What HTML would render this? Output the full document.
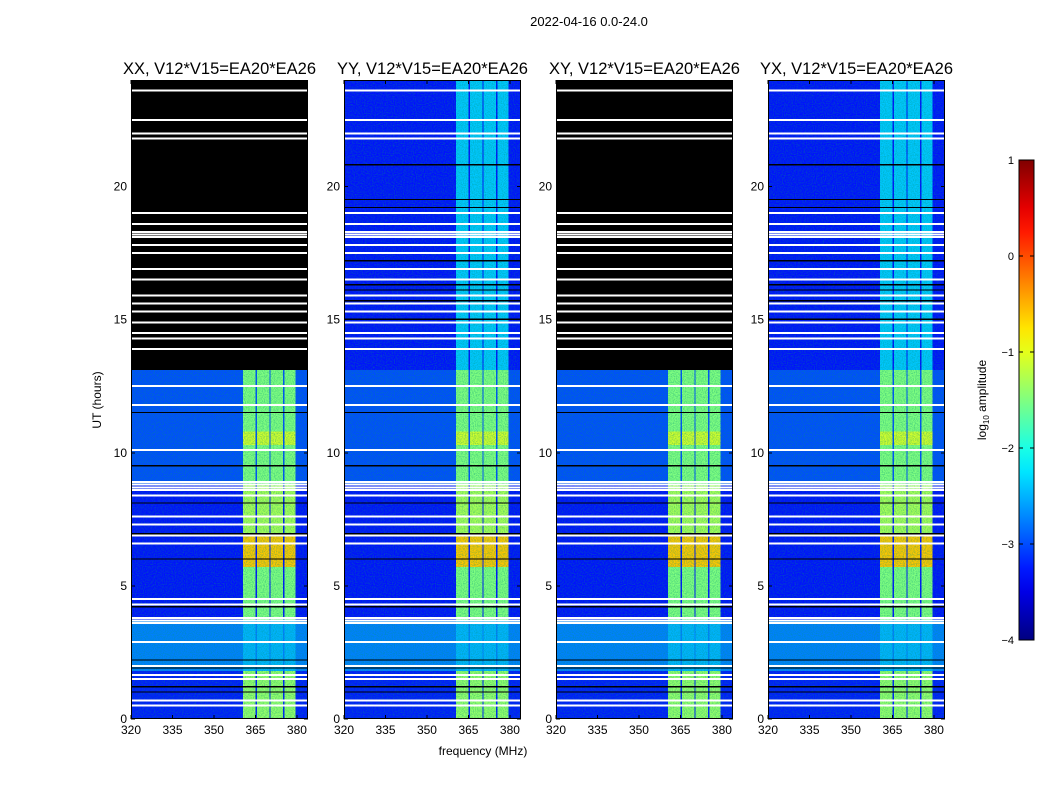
<!DOCTYPE html>
<html><head><meta charset="utf-8">
<style>
body{margin:0;background:#fff;}
svg text{font-family:"Liberation Sans",sans-serif;fill:#000;}
</style></head>
<body>
<svg id="fig" width="1050" height="800" xmlns="http://www.w3.org/2000/svg" shape-rendering="crispEdges">
<rect width="1050" height="800" fill="#fff"/>
<text x="589" y="26" font-size="13" text-anchor="middle">2022-04-16 0.0-24.0</text>
<text x="483" y="755" font-size="12" text-anchor="middle">frequency (MHz)</text>
<text transform="translate(101,400) rotate(-90)" font-size="12" text-anchor="middle">UT (hours)</text>
<text transform="translate(986,400) rotate(-90)" font-size="12" text-anchor="middle">log<tspan font-size="8" dy="3">10</tspan><tspan dy="-3"> amplitude</tspan></text>
</svg>
<script>
// ---- data ----
const panelTitles = ["XX, V12*V15=EA20*EA26","YY, V12*V15=EA20*EA26","XY, V12*V15=EA20*EA26","YX, V12*V15=EA20*EA26"];
const blankAbove = [13.1, null, 13.1, null];   // hours above which data is missing (black)
const bgStart = [0, 1.8, 3.7, 8.8, 13.1];
const bgEnd   = [1.8, 3.7, 8.8, 13.1, 24];
const bgLevel = [-3.25, -2.75, -3.3, -3.0, -3.3];
const bandF0 = [360.5, 365.5, 370.5, 375.5];
const bandF1 = [365.0, 370.0, 375.0, 379.5];
const rfiStart = [0, 1.8, 3.7, 5.7, 6.9, 8.8, 10.3, 10.8, 13.1];
const rfiEnd   = [1.8, 3.7, 5.7, 6.9, 8.8, 10.3, 10.8, 13.1, 24];
const rfiLevel = [-1.4, -2.5, -1.5, -0.6, -1.3, -1.5, -1.1, -1.5, -2.4];
const whiteLines = [0.5,0.7,1.5,1.65,2.0,2.9,3.6,3.7,3.8,4.3,4.5,6.6,6.9,7.3,7.6,8.4,8.6,8.7,8.8,8.9,10.1,11.8,12.5,13.9,14.3,14.5,14.9,15.3,15.6,15.9,16.5,16.9,17.5,17.8,18.1,18.2,18.3,18.6,19.0,21.8,22.0,22.5,23.6];
const blackLines = [1.0,1.2,1.9,2.2,4.2,6.0,6.95,8.1,9.5,11.5,15.0,15.7,16.1,16.3,17.2,19.2,19.5,20.8];
const xTicks = [320,335,350,365,380];
const yTicks = [0,5,10,15,20];
const cbTicks = [1,0,-1,-2,-3,-4];

// ---- axes ----
const panelX = [131,344,556,768], PW = 177, PT = 80, PB = 719;
const fMin = 320, fMax = 384, tMax = 24;
const fx = (f,i)=> panelX[i] + (f-fMin)/(fMax-fMin)*PW;
const ty = h => PB - h/tMax*(PB-PT);
function jet(v){const t=Math.max(0,Math.min(1,(v+4)/5));const c=x=>Math.round(255*Math.max(0,Math.min(1,1.5-Math.abs(4*t-x))));return `rgb(${c(3)},${c(2)},${c(1)})`;}
const svg = document.getElementById('fig');
const NS = "http://www.w3.org/2000/svg";
function mk(tag, attrs, parent){const e=document.createElementNS(NS,tag);for(const k in attrs)e.setAttribute(k,attrs[k]);(parent||svg).appendChild(e);return e;}

panelTitles.forEach((title,i)=>{
  const g = mk('g',{});
  
  
  bgStart.forEach((s,k)=>{
    const r=mk('rect',{x:panelX[i],y:ty(bgEnd[k]),width:PW,height:ty(bgStart[k])-ty(bgEnd[k]),fill:jet(bgLevel[k])},g);
    
    
  });
  rfiStart.forEach((s,k)=>{
    bandF0.forEach((f0,b)=>{
      const r=mk('rect',{x:fx(f0,i),y:ty(rfiEnd[k]),width:fx(bandF1[b],i)-fx(f0,i),height:ty(s)-ty(rfiEnd[k]),fill:jet(rfiLevel[k])},g);
      
      
    });
  });
  const fid='n'+i;
  const f=mk('filter',{id:fid,x:0,y:0,width:'100%',height:'100%'},g);
  mk('feTurbulence',{type:'fractalNoise',baseFrequency:'0.9',numOctaves:'1',seed:i+1},f);
  mk('feColorMatrix',{type:'matrix',values:'0 0 0 0 0  0 0 0 0 0.3  0 0 0 0 0.2  0 0 0 1.2 -0.45'},f);
  mk('rect',{x:panelX[i],y:PT,width:PW,height:PB-PT,filter:`url(#${fid})`,opacity:0.9},g);
  if(blankAbove[i]!==null){
    const r=mk('rect',{x:panelX[i],y:PT,width:PW,height:ty(blankAbove[i])-PT,fill:'#000'},g);
    
    
  }
  blackLines.forEach(h=>{const r=mk('rect',{x:panelX[i],y:ty(h)-1,width:PW,height:1.3,fill:'#000'},g);
    });
  whiteLines.forEach(h=>{const r=mk('rect',{x:panelX[i],y:ty(h)-1,width:PW,height:2,fill:'#fff'},g);
    });
  mk('rect',{x:panelX[i]+0.5,y:PT+0.5,width:PW-1,height:PB-PT-1,fill:'none',stroke:'#000','stroke-width':1},g);
  const t=mk('text',{x:panelX[i]+PW/2,y:74,'font-size':16.5,'text-anchor':'middle'},g);
  t.textContent=title;
  
  
  xTicks.forEach(v=>{
    const x=fx(v,i);
    mk('line',{x1:x,x2:x,y1:PB,y2:PB-4,stroke:'#000'},g);
    mk('line',{x1:x,x2:x,y1:PT,y2:PT+4,stroke:'#000'},g);
    const l=mk('text',{x:x,y:PB+15,'font-size':12,'text-anchor':'middle'},g);
    l.textContent=v;
    
    
  });
  yTicks.forEach(v=>{
    const y=ty(v);
    mk('line',{x1:panelX[i],x2:panelX[i]+4,y1:y,y2:y,stroke:'#000'},g);
    mk('line',{x1:panelX[i]+PW,x2:panelX[i]+PW-4,y1:y,y2:y,stroke:'#000'},g);
    const l=mk('text',{x:panelX[i]-4,y:y+4,'font-size':12,'text-anchor':'end'},g);
    l.textContent=v;
    
    
  });
});

const cbX=1019, cbW=15, cbT=160, cbB=640;
const cb=mk('g',{});


const grad=mk('linearGradient',{id:'jetg',x1:0,y1:1,x2:0,y2:0},cb);
for(let k=0;k<=20;k++){mk('stop',{offset:k/20,'stop-color':jet(-4+5*k/20)},grad);}
mk('rect',{x:cbX,y:cbT,width:cbW,height:cbB-cbT,fill:'url(#jetg)',stroke:'#000'},cb);
cbTicks.forEach(v=>{
  const y=cbB-(v+4)/5*(cbB-cbT);
  mk('line',{x1:cbX,x2:cbX+4,y1:y,y2:y,stroke:'#000'},cb);
  mk('line',{x1:cbX+cbW,x2:cbX+cbW-4,y1:y,y2:y,stroke:'#000'},cb);
  const l=mk('text',{x:cbX-5,y:y+4,'font-size':11,'text-anchor':'end'},cb);
  l.textContent=v<0?'\u2212'+(-v):v;
  
  
});
</script>
</body></html>
